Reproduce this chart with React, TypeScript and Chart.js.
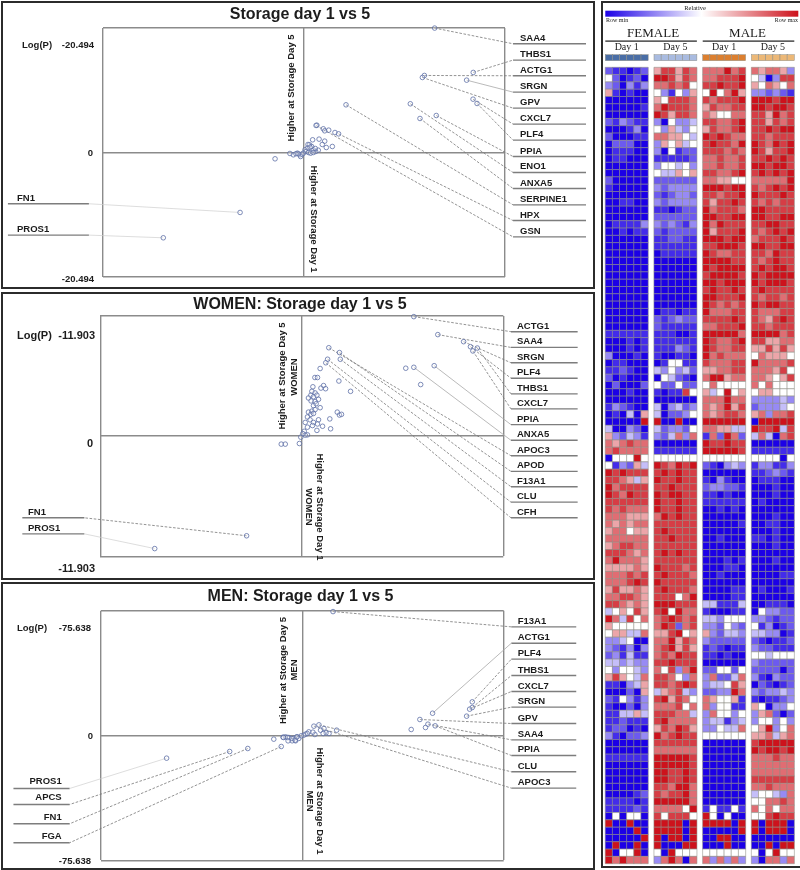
import React, { useEffect, useRef } from "react";
import { Chart, registerables } from "chart.js";

Chart.register(...registerables);

// ---------- Panel 1: Storage day 1 vs 5 ----------
const p1Genes = ["SAA4", "THBS1", "ACTG1", "SRGN", "GPV", "CXCL7", "PLF4", "PPIA", "ENO1", "ANXA5", "SERPINE1", "HPX", "GSN"];
const p1GeneX = [0.65, 0.842, 0.599, 0.809, 0.589, 0.841, 0.861, 0.658, 0.529, 0.577, 0.209, 0.172, 0.06];
const p1GeneY = [20.48, 13.18, 12.68, 11.91, 12.35, 8.78, 8.07, 6.09, 8.02, 5.6, 7.85, 3.07, 4.45];
const p1GeneRowY = [17.9, 15.21, 12.63, 9.94, 7.3, 4.67, 2.03, -0.66, -3.29, -5.93, -8.62, -11.2, -13.89];
const p1LeftGenes = ["FN1", "PROS1"];
const p1LeftX = [-0.318, -0.7];
const p1LeftY = [-9.87, -14.04];
const p1LeftRowY = [-8.44, -13.6];
const p1OtherX = [0.096, 0.103, 0.123, 0.154, 0.043, 0.075, 0.103, 0.091, 0.111, 0.141, 0.071, 0.058, 0.046, 0.038, 0.027, 0.02, 0.017, 0.03, 0.005, 0.01, 0.023, 0.033, -0.003, -0.02, -0.033, -0.053, -0.07, -0.017, -0.01, -0.028, 0.046, 0.056, -0.144, -0.04, 0.064];
const p1OtherY = [3.9, 3.57, 3.68, 3.29, 2.09, 2.2, 1.87, 1.32, 0.82, 0.99, 0.38, 0.16, 0.44, 0.99, 1.26, 1.32, 0.71, 0.88, 0.44, 0.16, 0, -0.11, -0.11, -0.38, -0.11, -0.38, -0.16, -0.66, -0.27, -0.22, 0, 0.66, -1.04, -0.2, 4.5];

// ---------- Panel 2: WOMEN ----------
const p2Genes = ["ACTG1", "SAA4", "SRGN", "PLF4", "THBS1", "CXCL7", "PPIA", "ANXA5", "APOC3", "APOD", "F13A1", "CLU", "CFH"];
const p2GeneX = [0.556, 0.675, 0.803, 0.837, 0.871, 0.849, 0.657, 0.556, 0.134, 0.187, 0.191, 0.128, 0.119];
const p2GeneY = [11.84, 10.06, 9.36, 8.86, 8.73, 8.44, 6.98, 6.82, 8.76, 8.28, 7.62, 7.62, 7.27];
const p2GeneRowY = [10.35, 8.79, 7.27, 5.74, 4.19, 2.7, 1.14, -0.41, -1.94, -3.49, -5.01, -6.54, -8.09];
const p2LeftGenes = ["FN1", "PROS1"];
const p2LeftX = [-0.274, -0.73];
const p2LeftY = [-9.87, -11.14];
const p2LeftRowY = [-8.09, -9.68];
const p2OtherX = [0.516, 0.59, 0.091, 0.065, 0.078, 0.184, 0.108, 0.095, 0.118, 0.055, 0.242, 0.05, 0.066, 0.033, 0.045, 0.058, 0.075, 0.083, 0.046, 0.066, 0.091, 0.058, 0.071, 0.176, 0.187, 0.197, 0.033, 0.05, 0.066, 0.028, 0.045, 0.058, 0.041, 0.083, 0.139, 0.017, 0.058, 0.078, 0.028, 0.053, 0.103, 0.075, 0.143, 0.012, 0.028, 0.017, -0.005, -0.012, 0.005, -0.102, -0.082];
const p2OtherY = [6.73, 5.11, 6.7, 5.81, 5.81, 5.46, 5.01, 4.76, 4.7, 4.89, 4.44, 4.44, 4.28, 3.78, 4.06, 3.9, 4.06, 3.65, 3.49, 3.43, 2.82, 3.02, 3.21, 2.38, 2.09, 2.16, 2.38, 2.48, 2.63, 1.9, 2.16, 2.25, 1.62, 1.62, 1.71, 1.36, 1.36, 1.21, 0.89, 1.05, 0.98, 0.57, 0.73, 0.48, 0.13, 0.1, -0.1, -0.73, 0.25, -0.79, -0.79];

// ---------- Panel 3: MEN ----------
const p3Genes = ["F13A1", "ACTG1", "PLF4", "THBS1", "CXCL7", "SRGN", "GPV", "SAA4", "PPIA", "CLU", "APOC3"];
const p3GeneX = [0.153, 0.647, 0.844, 0.844, 0.831, 0.816, 0.584, 0.624, 0.66, 0.083, 0.058];
const p3GeneY = [75.1, 13.5, 20.4, 16.97, 15.96, 11.72, 9.7, 6.87, 5.86, 6.46, 5.66];
const p3GeneRowY = [65.85, 55.95, 46.26, 36.36, 26.66, 17.17, 7.27, -2.63, -12.12, -22.0, -31.9];
const p3LeftGenes = ["PROS1", "APCS", "FN1", "FGA"];
const p3LeftX = [-0.673, -0.36, -0.27, -0.104];
const p3LeftY = [-13.74, -9.7, -7.88, -6.67];
const p3LeftRowY = [-32.1, -41.8, -53.5, -65.0];
const p3OtherX = [0.541, 0.612, 0.171, 0.091, 0.108, 0.063, 0.033, 0.053, 0.119, 0.133, 0.104, 0.017, 0.025, 0.008, -0.005, -0.025, -0.041, -0.066, -0.083, -0.095, -0.033, -0.05, -0.017, -0.141, -0.093, -0.073, -0.07, -0.051, -0.035, -0.027];
const p3OtherY = [3.64, 4.85, 3.23, 3.23, 4.24, 0.61, 2.22, 2.02, 1.62, 1.21, 1.21, 0.81, 1.21, 0.2, -0.2, -0.81, -1.62, -1.21, -0.81, -1.0, -3.2, -3.2, -1.8, -2.22, -1.21, -1.21, -3.23, -1.82, -2.83, -0.81];

// ---------- Heat map: one string per protein, one digit per sample (0 = row min, 5 = middle, 9 = row max) ----------
const femaleDay1 = ["211012","520120","320313","610100","000000","000001","000000","213211","000130","200011","022200","011100","011000","000000","000000","200000","100000","000000","001100","000000","000000","011113","001011","000000","000000","000000","000000","000000","000000","000000","000000","000000","000000","000000","000000","000000","111111","000101","000101","300010","011000","112100","201000","020002","000100","000000","132100","010406","000009","400320","632431","767877","787777","055595","513264","989888","887646","978888","987988","888888","878777","777666","767677","677566","777777","678877","888767","797776","666676","777878","777898","686676","778876","887676","456586","974857","655555","566447","334500","321303","231411","443433","535543","686547","110346","000206","215313","100203","114464","112111","122010","310223","000000","000000","111111","000000","000000","000000","000000","000012","111101","111121","050550","900900","000090","000009","090090","905590","979777"];
const femaleDay5 = ["688687","998687","778785","531536","658887","798887","986887","305334","536435","776654","365645","305122","111112","355453","544656","222222","323333","212332","323333","110122","222222","323213","212222","112211","111111","011111","000000","000000","000000","000000","000000","000000","000000","011011","212322","211111","111001","111111","111321","100110","015511","435342","054210","522522","101185","000000","403423","402235","900900","423325","324737","000000","111111","555555","987989","898988","988988","889888","989988","988988","988988","798988","888888","898888","889888","888888","898988","888888","988878","898887","988888","898887","888579","999888","895977","789878","798278","668956","779687","789686","787988","889888","758379","887537","887898","467843","896875","777857","888774","897777","687986","978988","888888","777777","999998","999998","998898","998898","887997","878897","999997","777759","858885","999909","999909","909909","900099","509555","379707"];
const maleDay1 = ["777978","778889","889889","595796","878889","687788","765577","887789","687789","989877","898879","888787","778778","778778","887789","776655","999899","887889","868898","978887","998899","979888","968889","999899","889998","987788","999988","989999","899998","998999","898898","998889","987878","977788","888898","778889","999997","987789","987788","978777","877788","667788","799677","575555","645956","777977","767968","767887","999999","776644","172972","988988","999998","555555","210343","000000","103100","233221","110100","111111","001010","000000","000001","000000","001000","000000","000000","000101","000110","001000","000000","000011","000011","441114","100011","443555","332532","632443","322222","121011","110100","000000","225525","372247","344586","223397","765561","735511","375535","344134","335447","555555","000000","000000","000000","000000","000000","000000","000000","000000","000000","151151","950500","999909","000009","009900","000900","555555","737373"];
const maleDay5 = ["767763","540388","657657","332321","999899","998998","886978","886878","889899","887888","987989","986889","889898","998998","898989","777779","878989","988898","878788","998888","998899","889988","878989","788898","998899","887988","878988","898998","989999","989998","898888","878878","989988","877788","876898","887888","999978","886677","668686","576665","977778","777685","776568","757555","566555","333343","233345","673778","099999","988948","474078","000000","111111","555505","133113","112321","011100","000100","000100","010000","000000","000100","001100","000100","110100","000100","000000","000100","000000","000011","000000","010001","000000","001110","053322","332122","513012","443301","210112","322111","554555","322222","222202","310322","021012","323343","101123","650335","367202","355353","569357","667467","899999","989989","777877","777777","777777","888888","778777","455437","557787","757577","558988","909990","909990","000000","009099","505955","307737"];
const heatGroups = [femaleDay1, femaleDay5, maleDay1, maleDay5];
const groupTitles = ["Day 1", "Day 5", "Day 1", "Day 5"];
const sexTitles = ["FEMALE", "MALE"];

const FONT = '"Liberation Sans", Arial, sans-serif';
const SERIF = '"Liberation Serif", "Times New Roman", serif';

type Txt = [string, number, number, CanvasTextAlign, number, number?];

function buildPanel(cfg: any) {
  const leaders: any[] = [];
  const stubs: any[] = [];
  const addSide = (names: string[], xs: number[], ys: number[], rows: number[], inner: number, outer: number) => {
    names.forEach((n, i) => {
      const solid = cfg.solid.includes(n);
      const faint = cfg.faint.includes(n);
      leaders.push({
        type: "scatter",
        showLine: true,
        clip: false,
        pointRadius: 0,
        borderWidth: faint ? 0.7 : 0.8,
        borderColor: faint ? "#cfcfcf" : solid ? "#a8a8a8" : "#777777",
        borderDash: solid || faint ? [] : [2.6, 1.6],
        data: [{ x: xs[i], y: ys[i] }, { x: inner, y: rows[i] }],
      });
      stubs.push({
        type: "scatter",
        showLine: true,
        clip: false,
        pointRadius: 0,
        borderWidth: 1.4,
        borderColor: "#7d7d7d",
        data: [{ x: inner, y: rows[i] }, { x: outer, y: rows[i] }],
      });
    });
  };
  addSide(cfg.genes, cfg.geneX, cfg.geneY, cfg.rowY, cfg.rightIn, cfg.rightOut);
  addSide(cfg.leftGenes, cfg.leftX, cfg.leftY, cfg.leftRowY, cfg.leftIn, cfg.leftOut);
  const pts = [
    ...cfg.otherX.map((x: number, i: number) => ({ x, y: cfg.otherY[i] })),
    ...cfg.geneX.map((x: number, i: number) => ({ x, y: cfg.geneY[i] })),
    ...cfg.leftX.map((x: number, i: number) => ({ x, y: cfg.leftY[i] })),
  ];
  const points = {
    type: "scatter",
    clip: false,
    pointRadius: 2.3,
    pointBorderWidth: 0.8,
    pointBorderColor: "#5d6fa6",
    pointBackgroundColor: "rgba(255,255,255,0.25)",
    data: pts,
  };
  const axisTicks = (vals: number[]) => (scale: any) => {
    scale.ticks = vals.map((value) => ({ value }));
  };
  const label = {
    id: "panelText",
    afterDraw(chart: any) {
      const { ctx, scales } = chart;
      ctx.save();
      ctx.fillStyle = "#1c1c1c";
      ctx.textBaseline = "middle";
      cfg.texts.forEach(([t, x, y, align, size, rot]: Txt) => {
        ctx.save();
        ctx.font = `bold ${size}px ${FONT}`;
        ctx.textAlign = align;
        ctx.translate(x, y);
        if (rot) ctx.rotate((rot * Math.PI) / 180);
        ctx.fillText(t, 0, 0);
        ctx.restore();
      });
      ctx.font = `bold 9.5px ${FONT}`;
      ctx.textBaseline = "alphabetic";
      ctx.textAlign = "left";
      cfg.genes.forEach((g: string, i: number) => {
        ctx.fillText(g, cfg.rightTextX, scales.y.getPixelForValue(cfg.rowY[i]) - 3);
      });
      ctx.textAlign = cfg.leftAlign;
      cfg.leftGenes.forEach((g: string, i: number) => {
        ctx.fillText(g, cfg.leftTextX, scales.y.getPixelForValue(cfg.leftRowY[i]) - cfg.leftLift);
      });
      ctx.restore();
    },
  };
  return {
    type: "scatter",
    data: { datasets: [points, ...leaders, ...stubs] },
    plugins: [label],
    options: {
      animation: false,
      responsive: false,
      events: [],
      layout: { padding: cfg.padding },
      plugins: { legend: { display: false }, tooltip: { enabled: false } },
      scales: {
        x: {
          type: "linear",
          min: -1,
          max: 1,
          afterBuildTicks: axisTicks([-1, 0, 1]),
          ticks: { display: false },
          border: { display: false },
          grid: { color: "#8b8b8b", lineWidth: 1.4, drawTicks: false },
        },
        y: {
          type: "linear",
          min: -cfg.range,
          max: cfg.range,
          afterBuildTicks: axisTicks([-cfg.range, 0, cfg.range]),
          ticks: { display: false },
          border: { display: false },
          grid: { color: "#8b8b8b", lineWidth: 1.4, drawTicks: false },
        },
      },
    },
  };
}

const panel1 = {
  range: 20.494,
  genes: p1Genes, geneX: p1GeneX, geneY: p1GeneY, rowY: p1GeneRowY,
  leftGenes: p1LeftGenes, leftX: p1LeftX, leftY: p1LeftY, leftRowY: p1LeftRowY,
  otherX: p1OtherX, otherY: p1OtherY,
  solid: ["SRGN"], faint: ["FN1", "PROS1"],
  rightIn: 1.04, rightOut: 1.403, leftIn: -1.07, leftOut: -1.473,
  rightTextX: 520, leftTextX: 17, leftAlign: "left", leftLift: 3,
  padding: { left: 103, right: 95, top: 28, bottom: 13 },
  texts: [
    ["Storage day 1 vs 5", 300, 14.5, "center", 16],
    ["Log(P)", 22, 45.5, "left", 9.5],
    ["-20.494", 94, 45.5, "right", 9.5],
    ["0", 93, 153.5, "right", 9.5],
    ["-20.494", 94, 279, "right", 9.5],
    ["Higher at Storage Day 5", 291.7, 88, "center", 9.5, -90],
    ["Higher at Storage Day 1", 314, 219, "center", 9.5, 90],
  ] as Txt[],
};

const panel2 = {
  range: 11.903,
  genes: p2Genes, geneX: p2GeneX, geneY: p2GeneY, rowY: p2GeneRowY,
  leftGenes: p2LeftGenes, leftX: p2LeftX, leftY: p2LeftY, leftRowY: p2LeftRowY,
  otherX: p2OtherX, otherY: p2OtherY,
  solid: ["PPIA", "ANXA5"], faint: ["PROS1"],
  rightIn: 1.038, rightOut: 1.369, leftIn: -1.079, leftOut: -1.387,
  rightTextX: 517, leftTextX: 28, leftAlign: "left", leftLift: 3,
  padding: { left: 100.3, right: 96.7, top: 26, bottom: 23.7 },
  texts: [
    ["WOMEN: Storage day 1 vs 5", 300, 14.5, "center", 16],
    ["Log(P)", 17, 45.5, "left", 11],
    ["-11.903", 95, 45.5, "right", 11],
    ["0", 93, 154, "right", 11],
    ["-11.903", 95, 279, "right", 11],
    ["Higher at Storage Day 5", 282.7, 86, "center", 9.5, -90],
    ["WOMEN", 294, 87, "center", 9.5, -90],
    ["Higher at Storage Day 1", 320, 217, "center", 9.5, 90],
    ["WOMEN", 308.7, 217, "center", 9.5, 90],
  ] as Txt[],
};

const panel3 = {
  range: 75.638,
  genes: p3Genes, geneX: p3GeneX, geneY: p3GeneY, rowY: p3GeneRowY,
  leftGenes: p3LeftGenes, leftX: p3LeftX, leftY: p3LeftY, leftRowY: p3LeftRowY,
  otherX: p3OtherX, otherY: p3OtherY,
  solid: ["ACTG1"], faint: ["PROS1"],
  rightIn: 1.038, rightOut: 1.36, leftIn: -1.154, leftOut: -1.433,
  rightTextX: 517.7, leftTextX: 61.7, leftAlign: "right", leftLift: 4,
  padding: { left: 100.7, right: 96.3, top: 30.7, bottom: 9.7 },
  texts: [
    ["MEN: Storage day 1 vs 5", 300.5, 17, "center", 16],
    ["Log(P)", 17, 48, "left", 9.5],
    ["-75.638", 91, 48, "right", 9.5],
    ["0", 93, 156, "right", 9.5],
    ["-75.638", 91, 281.7, "right", 9.5],
    ["Higher at Storage Day 5", 283.3, 90.5, "center", 9.5, -90],
    ["MEN", 294.3, 90, "center", 9.5, -90],
    ["Higher at Storage Day 1", 320, 221, "center", 9.5, 90],
    ["MEN", 309.3, 221, "center", 9.5, 90],
  ] as Txt[],
};

const GROUP_STEP = 6.818;
const CELL_COUNT = 6;
const BLUE = [28, 0, 230];
const RED = [205, 18, 28];
function shade(d: number) {
  const mix = (c: number[], t: number) => c.map((v) => Math.round(255 + (v - 255) * t));
  const rgb = d <= 5 ? mix(BLUE, Math.pow((5 - d) / 5, 0.85)) : mix(RED, Math.pow((d - 5) / 4, 0.7));
  return `rgb(${rgb[0]},${rgb[1]},${rgb[2]})`;
}

function buildHeat() {
  const cells: any[] = [];
  heatGroups.forEach((rows, g) => {
    rows.forEach((row, r) => {
      row.split("").forEach((ch, c) => {
        cells.push({ x: g * GROUP_STEP + c + 0.5, y: r + 0.5, v: Number(ch) });
      });
    });
  });
  const bands = ["#4a6ea6", "#a9bbe0", "#dc7f2f", "#ecb877"];
  const header = {
    id: "heatHeader",
    afterDraw(chart: any) {
      const { ctx, scales } = chart;
      const x = scales.x;
      ctx.save();
      const g = ctx.createLinearGradient(605, 0, 798, 0);
      g.addColorStop(0, "rgb(28,0,230)");
      g.addColorStop(0.5, "#ffffff");
      g.addColorStop(1, "rgb(205,18,28)");
      ctx.fillStyle = g;
      ctx.fillRect(605.3, 10.7, 193, 6);
      ctx.fillStyle = "#1a1a1a";
      ctx.textBaseline = "middle";
      ctx.textAlign = "center";
      ctx.font = `6.5px ${SERIF}`;
      ctx.fillText("Relative", 695, 8);
      ctx.textAlign = "left";
      ctx.font = `6px ${SERIF}`;
      ctx.fillText("Row min", 606, 20);
      ctx.textAlign = "right";
      ctx.fillText("Row max", 798, 20);
      ctx.textAlign = "center";
      ctx.font = `13px ${SERIF}`;
      sexTitles.forEach((t, i) => {
        const a = x.getPixelForValue(i * 2 * GROUP_STEP);
        const b = x.getPixelForValue((i * 2 + 1) * GROUP_STEP + CELL_COUNT);
        ctx.fillText(t, (a + b) / 2 + (i === 0 ? 2 : -1), 34);
        ctx.fillRect(a, 40.5, b - a, 1.2);
      });
      ctx.font = `10px ${SERIF}`;
      groupTitles.forEach((t, i) => {
        const a = x.getPixelForValue(i * GROUP_STEP);
        const b = x.getPixelForValue(i * GROUP_STEP + CELL_COUNT);
        ctx.fillStyle = "#1a1a1a";
        ctx.fillText(t, (a + b) / 2, 47.5);
        for (let c = 0; c < CELL_COUNT; c++) {
          const l = x.getPixelForValue(i * GROUP_STEP + c);
          const rr = x.getPixelForValue(i * GROUP_STEP + c + 1);
          ctx.fillStyle = bands[i];
          ctx.fillRect(l, 54.7, rr - l, 6);
          ctx.strokeStyle = "#8d8d85";
          ctx.lineWidth = 0.5;
          ctx.strokeRect(l, 54.7, rr - l, 6);
        }
      });
      ctx.restore();
    },
  };
  return {
    type: "scatter",
    data: {
      datasets: [
        {
          data: cells,
          clip: false,
          pointStyle: "rect",
          pointRadius: 7.3 / Math.SQRT2,
          pointBorderWidth: 0.55,
          pointBorderColor: "#8d8d85",
          pointBackgroundColor: (c: any) => shade(c.raw ? c.raw.v : 5),
        },
      ],
    },
    plugins: [header],
    options: {
      animation: false,
      responsive: false,
      events: [],
      layout: { padding: { left: 605.3, right: 0.7, top: 67.3, bottom: 6.3 } },
      plugins: { legend: { display: false }, tooltip: { enabled: false } },
      scales: {
        x: { type: "linear", display: false, min: 0, max: 3 * GROUP_STEP + CELL_COUNT },
        y: { type: "linear", display: false, min: 0, max: femaleDay1.length, reverse: true },
      },
    },
  };
}

function Panel({ top, config }: { top: number; config: any }) {
  const ref = useRef<HTMLCanvasElement>(null);
  useEffect(() => {
    const chart = new Chart(ref.current as any, buildPanel(config) as any);
    return () => chart.destroy();
  }, [config]);
  return <canvas ref={ref} width={600} height={290} style={{ position: "absolute", left: 0, top, display: "block" }} />;
}

function Heat() {
  const ref = useRef<HTMLCanvasElement>(null);
  useEffect(() => {
    const cfg: any = buildHeat();
    // The header plugin uses page coordinates, so the canvas covers the whole page.
    const chart = new Chart(ref.current as any, cfg);
    return () => chart.destroy();
  }, []);
  return <canvas ref={ref} width={800} height={870} style={{ position: "absolute", left: 0, top: 0, display: "block" }} />;
}

const frame = (top: number, height: number): React.CSSProperties => ({
  position: "absolute", left: 1, top, width: 594, height, border: "2px solid #2b2b2b", boxSizing: "border-box",
});

export default function App() {
  return (
    <div style={{ position: "absolute", left: 0, top: 0, width: 800, height: 870, overflow: "hidden", background: "#fff" }}>
      <Heat />
      <Panel top={0} config={panel1} />
      <Panel top={290} config={panel2} />
      <Panel top={580} config={panel3} />
      <div style={frame(1, 288)} />
      <div style={frame(292, 288)} />
      <div style={frame(582, 288)} />
      <div style={{ position: "absolute", left: 601, top: 1, width: 199, height: 867, borderLeft: "2px solid #2b2b2b", borderTop: "2px solid #2b2b2b", borderBottom: "2px solid #2b2b2b", boxSizing: "border-box" }} />
    </div>
  );
}
